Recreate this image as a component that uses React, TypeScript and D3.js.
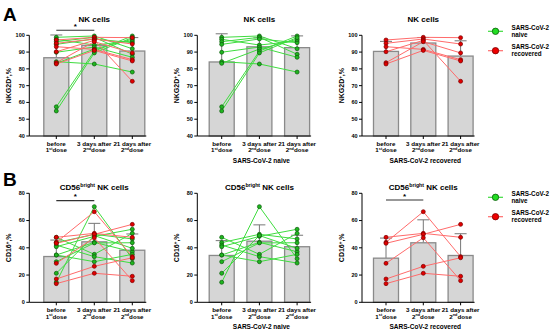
// NK cell NKG2D / CD16 paired bar charts
import { useEffect, useRef } from 'react'
import * as d3 from 'd3'

const timepoints = ['before', '3d', '21d']
const tickLines = [
  ['before', '1', 'st', 'dose'],
  ['3 days after', '2', 'nd', 'dose'],
  ['21 days after', '2', 'nd', 'dose'],
]

// NKG2D+ %, one row per donor: before, 3 days after, 21 days after
const nkNaive = [
  [98.8, 99.6, 92.0],
  [97.6, 94.2, 96.6],
  [96.2, 98.8, 88.7],
  [94.6, 97.8, 95.6],
  [89.9, 93.0, 86.9],
  [84.3, 82.9, 78.1],
  [83.3, 91.8, 97.6],
  [57.4, 90.6, 99.6],
  [54.9, 89.5, 98.6],
]
const nkRecovered = [
  [97.2, 98.8, 98.6],
  [95.2, 97.8, 94.8],
  [93.2, 91.6, 85.5],
  [90.2, 97.0, 72.6],
  [83.7, 96.2, 89.5],
  [82.9, 91.0, 84.7],
]

// CD16+ % of CD56bright NK cells
const cdNaive = [
  [47.7, 35.2, 50.6],
  [43.8, 49.9, 46.5],
  [42.0, 33.5, 28.8],
  [40.8, 48.4, 53.6],
  [34.7, 44.0, 37.1],
  [34.7, 29.8, 35.2],
  [29.8, 43.6, 43.7],
  [21.3, 49.0, 39.6],
  [14.7, 70.2, 32.0],
]
const cdRecovered = [
  [47.7, 50.6, 47.7],
  [44.0, 66.5, 33.5],
  [43.3, 49.9, 57.2],
  [28.6, 47.4, 15.9],
  [17.1, 26.4, 32.7],
  [13.7, 21.3, 19.1],
]

const nkTicks = [40, 50, 60, 70, 80, 90, 100]
const cdTicks = [0, 20, 40, 60, 80]

// significance brackets: row, col, from, to, value
const sigBars = [
  { row: 0, col: 0, from: 0, to: 1, value: 103 },
  { row: 1, col: 0, from: 0, to: 1, value: 74.6 },
  { row: 1, col: 2, from: 0, to: 1, value: 75.1 },
]

const FONT = 'Liberation Sans, Arial, sans-serif'
const GREEN = { line: '#3fdc3f', fill: '#1fb51f', stroke: '#0a5a0a', legend: '#22dd22' }
const RED = { line: '#ff6b6b', fill: '#e00000', stroke: '#7a0000', legend: '#ee0000' }

export default function App() {
  const svgRef = useRef<SVGSVGElement>(null)

  useEffect(() => {
    if (!svgRef.current) return
    const svg = d3.select(svgRef.current)
    svg.selectAll('*').remove()

    const cols = [
      { axisX: 29.3, first: 56.3, step: 38, groups: ['naive', 'recovered'], label: '' },
      { axisX: 197.3, first: 221.7, step: 37.7, groups: ['naive'], label: 'SARS-CoV-2 naive' },
      { axisX: 362, first: 386, step: 37.3, groups: ['recovered'], label: 'SARS-CoV-2 recovered' },
    ]
    const rows = [
      {
        top: 35.3, bottom: 136, domain: [40, 100], ticks: nkTicks,
        naive: nkNaive, recovered: nkRecovered, yl: 'NKG2D', title: ['NK cells', '', ''],
        titleY: 22, letter: 'A', letterY: 21, legendY: 31.3,
      },
      {
        top: 193.3, bottom: 302.3, domain: [0, 80], ticks: cdTicks,
        naive: cdNaive, recovered: cdRecovered, yl: 'CD16', title: ['CD56', 'bright', ' NK cells'],
        titleY: 189.5, letter: 'B', letterY: 186, legendY: 197.3,
      },
    ]

    rows.forEach((row, ri) => {
      const y = d3.scaleLinear().domain(row.domain).range([row.bottom, row.top])

      svg.append('text')
        .attr('x', 3).attr('y', row.letterY)
        .attr('font-family', FONT).attr('font-weight', 'bold').attr('font-size', 19)
        .text(row.letter)

      cols.forEach((col, ci) => {
        const x = d3.scalePoint<string>().domain(timepoints)
          .range([col.first, col.first + 2 * col.step])
        const g = svg.append('g')

        const series: { vals: number[]; c: typeof GREEN }[] = []
        if (col.groups.includes('naive')) row.naive.forEach(v => series.push({ vals: v, c: GREEN }))
        if (col.groups.includes('recovered')) row.recovered.forEach(v => series.push({ vals: v, c: RED }))

        // bars with upper SD whisker
        timepoints.forEach((t, ti) => {
          const vals = series.map(s => s.vals[ti])
          const m = d3.mean(vals) as number
          const sd = d3.deviation(vals) as number
          const cx = x(t) as number
          g.append('line')
            .attr('x1', cx).attr('x2', cx).attr('y1', y(m)).attr('y2', y(m + sd))
            .attr('stroke', '#777').attr('stroke-width', 1)
          g.append('line')
            .attr('x1', cx - 6).attr('x2', cx + 6).attr('y1', y(m + sd)).attr('y2', y(m + sd))
            .attr('stroke', '#777').attr('stroke-width', 1)
          g.append('rect')
            .attr('x', cx - 12.5).attr('width', 25)
            .attr('y', y(m)).attr('height', row.bottom - y(m))
            .attr('fill', '#d6d6d6').attr('stroke', '#8a8a8a').attr('stroke-width', 1.3)
        })

        // axes
        const xEnd = (x(timepoints[2]) as number) + 14
        g.append('line')
          .attr('x1', col.axisX).attr('x2', xEnd).attr('y1', row.bottom).attr('y2', row.bottom)
          .attr('stroke', '#000').attr('stroke-width', 1)
        g.append('line')
          .attr('x1', col.axisX).attr('x2', col.axisX).attr('y1', row.bottom).attr('y2', y(row.domain[1]))
          .attr('stroke', '#000').attr('stroke-width', 1)
        row.ticks.forEach(tv => {
          g.append('line')
            .attr('x1', col.axisX - 3).attr('x2', col.axisX).attr('y1', y(tv)).attr('y2', y(tv))
            .attr('stroke', '#000')
          g.append('text')
            .attr('x', col.axisX - 4.5).attr('y', y(tv)).attr('dy', '0.35em')
            .attr('text-anchor', 'end')
            .attr('font-family', FONT).attr('font-weight', 'bold').attr('font-size', 5.5)
            .text(tv)
        })
        timepoints.forEach((t, ti) => {
          const cx = x(t) as number
          g.append('line')
            .attr('x1', cx).attr('x2', cx).attr('y1', row.bottom).attr('y2', row.bottom + 3)
            .attr('stroke', '#000')
          const [l1, n, sup, rest] = tickLines[ti]
          g.append('text')
            .attr('x', cx).attr('y', row.bottom + 9.5).attr('text-anchor', 'middle')
            .attr('font-family', FONT).attr('font-weight', 'bold').attr('font-size', 6.2)
            .text(l1)
          const t2 = g.append('text')
            .attr('x', cx).attr('y', row.bottom + 16.3).attr('text-anchor', 'middle')
            .attr('font-family', FONT).attr('font-weight', 'bold').attr('font-size', 6.2)
          t2.append('tspan').text(n)
          t2.append('tspan').attr('font-size', 3.8).attr('dy', -2.2).text(sup)
          t2.append('tspan').attr('dy', 2.2).text(rest)
        })

        // y label
        const yl = g.append('text')
          .attr('transform', `translate(${col.axisX - 18},${(row.top + row.bottom) / 2}) rotate(-90)`)
          .attr('text-anchor', 'middle')
          .attr('font-family', FONT).attr('font-weight', 'bold').attr('font-size', 7)
        yl.append('tspan').text(row.yl)
        yl.append('tspan').attr('font-size', 4.5).attr('dy', -2.5).text('+')
        yl.append('tspan').attr('dy', 2.5).text(',%')

        // title
        const mid = x(timepoints[1]) as number
        const tt = g.append('text')
          .attr('x', mid).attr('y', row.titleY).attr('text-anchor', 'middle')
          .attr('font-family', FONT).attr('font-weight', 'bold').attr('font-size', 8)
        tt.append('tspan').text(row.title[0])
        if (row.title[1]) {
          tt.append('tspan').attr('font-size', 5.2).attr('dy', -2.8).text(row.title[1])
          tt.append('tspan').attr('dy', 2.8).text(row.title[2])
        }

        // group label
        if (col.label) {
          g.append('text')
            .attr('x', mid + 2).attr('y', row.bottom + 26.5).attr('text-anchor', 'middle')
            .attr('font-family', FONT).attr('font-weight', 'bold').attr('font-size', 6.5)
            .text(col.label)
        }

        // donor lines then points
        const line = d3.line<number>()
          .x((_, i) => x(timepoints[i]) as number)
          .y(d => y(d))
        series.forEach(s => {
          g.append('path')
            .attr('d', line(s.vals))
            .attr('fill', 'none').attr('stroke', s.c.line).attr('stroke-width', 1)
        })
        series.forEach(s => {
          s.vals.forEach((v, i) => {
            g.append('circle')
              .attr('cx', x(timepoints[i]) as number).attr('cy', y(v)).attr('r', 2)
              .attr('fill', s.c.fill).attr('stroke', s.c.stroke).attr('stroke-width', 0.7)
          })
        })

        // significance
        sigBars.filter(sb => sb.row === ri && sb.col === ci).forEach(sb => {
          const x1 = x(timepoints[sb.from]) as number
          const x2 = x(timepoints[sb.to]) as number
          g.append('line')
            .attr('x1', x1).attr('x2', x2).attr('y1', y(sb.value)).attr('y2', y(sb.value))
            .attr('stroke', '#333').attr('stroke-width', 1.2)
          g.append('text')
            .attr('x', (x1 + x2) / 2).attr('y', y(sb.value) - 1.2).attr('text-anchor', 'middle')
            .attr('font-family', FONT).attr('font-weight', 'bold').attr('font-size', 8)
            .text('*')
        })
      })

      // legend
      const legendItems = [
        { c: GREEN, lines: ['SARS-CoV-2', 'naive'] },
        { c: RED, lines: ['SARS-CoV-2', 'recovered'] },
      ]
      legendItems.forEach((it, li) => {
        const ly = row.legendY + li * 19.4
        svg.append('line')
          .attr('x1', 488).attr('x2', 503).attr('y1', ly).attr('y2', ly)
          .attr('stroke', it.c.line).attr('stroke-width', 1.2)
        svg.append('circle')
          .attr('cx', 495.5).attr('cy', ly).attr('r', 3.2)
          .attr('fill', it.c.legend).attr('stroke', it.c.stroke).attr('stroke-width', 0.8)
        it.lines.forEach((tx, k) => {
          svg.append('text')
            .attr('x', 511.5).attr('y', ly - 1.5 + k * 6.8)
            .attr('font-family', FONT).attr('font-weight', 'bold').attr('font-size', 6.3)
            .text(tx)
        })
      })
    })
  }, [])

  return (
    <div style={{ position: 'absolute', left: 0, top: 0 }}>
      <svg ref={svgRef} width={550} height={333} style={{ background: '#fff', display: 'block' }} />
    </div>
  )
}
